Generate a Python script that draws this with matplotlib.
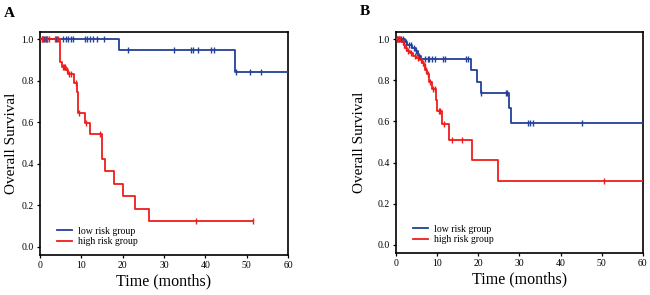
import numpy as np
import matplotlib
matplotlib.use("Agg")
import matplotlib.pyplot as plt

plt.rcParams['font.family'] = ['Liberation Serif', 'DejaVu Serif']

blue = '#23409a'
red = '#ee1c1c'

# panel A
a_low_t = [19.2, 47.3]
a_low_s = [0.947, 0.842]
a_low_cens = [0.6, 1.0, 1.4, 1.8, 3.9, 5.6, 6.2, 6.8, 7.4, 7.9, 10.9, 11.3, 12.1, 12.9,
              13.8, 15.5, 21.4, 32.4, 36.5, 37.0, 38.2, 41.5, 42.0, 47.5, 50.9, 53.4]
a_low_end = 60

a_high_t = [4.8, 5.4, 6.2, 6.8, 8.2, 9.0, 9.3, 10.8, 12.2, 15.1, 15.7, 18.0, 20.1, 22.9, 26.5]
a_high_s = [0.888, 0.866, 0.85, 0.83, 0.79, 0.745, 0.645, 0.598, 0.545, 0.42, 0.363,
            0.303, 0.242, 0.182, 0.121]
a_high_cens = [0.4, 0.8, 1.2, 1.6, 2.3, 3.6, 4.0, 4.4, 5.6, 5.9, 6.1, 6.6, 7.0, 7.4,
               8.6, 9.5, 11.2, 14.6, 37.7, 51.5]
a_high_end = 51.5

# panel B
b_low_t = [2.2, 2.8, 4.0, 4.8, 5.4, 6.0, 18.2, 19.6, 20.6, 27.5, 27.9]
b_low_s = [0.985, 0.97, 0.955, 0.94, 0.92, 0.905, 0.848, 0.792, 0.736, 0.664, 0.592]
b_low_cens = [0.3, 0.8, 1.3, 1.7, 2.5, 3.3, 3.6, 4.3, 5.0, 5.6, 7.1, 7.7, 8.1, 8.7, 9.5,
              11.4, 12.0, 17.0, 17.6, 20.8, 26.7, 27.0, 32.1, 32.6, 33.2, 45.2]
b_low_end = 60

b_high_t = [1.5, 1.9, 2.3, 2.8, 3.4, 4.2, 5.0, 5.8, 6.3, 6.8, 7.2, 7.6, 8.0, 8.7, 9.8,
            10.0, 11.1, 13.0, 18.4, 24.7]
b_high_s = [0.985, 0.97, 0.955, 0.94, 0.93, 0.92, 0.91, 0.90, 0.885, 0.87, 0.85, 0.83,
            0.79, 0.755, 0.705, 0.65, 0.587, 0.512, 0.41, 0.31]
b_high_cens = [0.2, 0.5, 0.8, 1.1, 1.7, 2.1, 2.5, 3.0, 3.8, 4.6, 5.4, 6.0, 6.6, 7.0, 7.4,
               7.8, 8.3, 9.0, 9.5, 10.4, 10.8, 11.6, 13.6, 16.0, 50.5]
b_high_end = 60


def km(ax, t, s, cens, end, color, label):
    x = np.r_[0, t, end]
    y = np.r_[1.0, s, s[-1]]
    ax.step(x, y, where='post', color=color, lw=1.3, label=label, zorder=3)
    idx = np.searchsorted(t, cens, side='right')
    cy = np.r_[1.0, s][idx]
    ax.plot(cens, cy, ls='none', marker='|', ms=5, mew=1.0, color=color, zorder=4)


def style(ax, ylab_x):
    ax.set_xlim(0, 60)
    ax.set_ylim(-0.04, 1.035)
    ax.set_xticks(np.arange(0, 61, 10))
    ax.set_yticks(np.arange(0, 1.01, 0.2))
    ax.set_yticklabels(['0.0', '0.2', '0.4', '0.6', '0.8', '1.0'])
    for sp in ax.spines.values():
        sp.set_linewidth(1.2)
    ax.tick_params(labelsize=7, length=2.5, width=0.9, pad=2)
    ax.set_xlabel('Time (months)', fontsize=11.5, labelpad=2)
    ax.set_ylabel('Overall Survival', fontsize=11)
    ax.yaxis.set_label_coords(ylab_x, 0.5)
    ax.legend(loc='lower left', bbox_to_anchor=(0.035, 0.0), frameon=False, fontsize=7,
              handlelength=1.5, handletextpad=0.6, labelspacing=0.15)


fig = plt.figure(figsize=(6.5, 2.95), dpi=100)
ax1 = fig.add_axes([0.0615, 0.136, 0.3815, 0.756])
ax2 = fig.add_axes([0.609, 0.142, 0.38, 0.750])

km(ax1, a_low_t, a_low_s, a_low_cens, a_low_end, blue, 'low risk group')
km(ax1, a_high_t, a_high_s, a_high_cens, a_high_end, red, 'high risk group')
style(ax1, -0.09)

km(ax2, b_low_t, b_low_s, b_low_cens, b_low_end, blue, 'low risk group')
km(ax2, b_high_t, b_high_s, b_high_cens, b_high_end, red, 'high risk group')
style(ax2, -0.12)

fig.text(0.006, 0.955, 'A', fontsize=11, fontweight='bold', va='center')
fig.text(0.553, 0.962, 'B', fontsize=11, fontweight='bold', va='center')

fig.savefig('out.png', dpi=100)
